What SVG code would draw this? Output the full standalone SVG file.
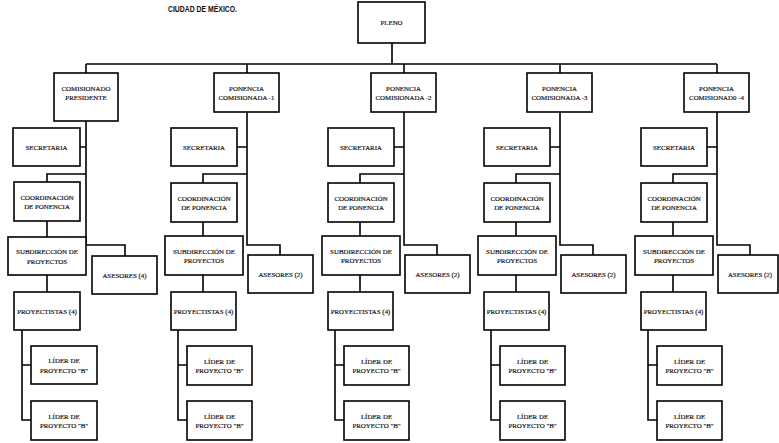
<svg xmlns="http://www.w3.org/2000/svg" width="779" height="443" viewBox="0 0 779 443">
<style>
.box{fill:#fff;stroke:#000;stroke-width:1.6}
.t{font-family:"Liberation Serif","DejaVu Serif",serif;font-size:6.9px;text-anchor:middle;dominant-baseline:central;fill:#111;stroke:#111;stroke-width:0.18}
.c{fill:none;stroke:#000;stroke-width:1.6}
.title{font-family:"Liberation Sans","DejaVu Sans",sans-serif;font-size:9px;font-weight:bold;fill:#111}
</style>
<rect width="779" height="443" fill="#fff"/>
<text class="title" x="168" y="12" textLength="69" lengthAdjust="spacingAndGlyphs">CIUDAD DE MÉXICO.</text>

<g id="connectors" class="c">
<path d="M392 43V64M86 64H717"/>
<g transform="translate(90,0)">
<path d="M-4 64V73M-4 121V245H35V256M-10 147H-4M-4 174H-43V183M-43 221V237M-43 275V292M-68 330V420H-59M-68 365H-59"/>
</g>
<g transform="translate(247,0)">
<path d="M0 64V73M0 112V245H33V255M-10 147H0M0 174H-44V183M-44 222V236M-44 275V292M-69 330V420H-60M-69 365H-60"/>
</g>
<g transform="translate(404,0)">
<path d="M0 64V73M0 112V245H33V255M-10 147H0M0 174H-44V183M-44 222V236M-44 275V292M-69 330V420H-60M-69 365H-60"/>
</g>
<g transform="translate(560,0)">
<path d="M0 64V73M0 112V245H33V255M-10 147H0M0 174H-44V183M-44 222V236M-44 275V292M-69 330V420H-60M-69 365H-60"/>
</g>
<g transform="translate(717,0)">
<path d="M0 64V73M0 112V245H33V255M-10 147H0M0 174H-44V183M-44 222V236M-44 275V292M-69 330V420H-60M-69 365H-60"/>
</g>
</g>

<g id="pleno"><rect class="box" x="358" y="2" width="67" height="41"/><text class="t" x="391.5" y="22.5">PLENO</text></g>

<!-- Column 1 -->
<g id="c1-top"><rect class="box" x="54" y="73" width="64" height="48"/><text class="t" x="86" y="88">COMISIONADO</text><text class="t" x="86" y="97.5">PRESIDENTE</text></g>
<g id="c1-secretaria" transform="translate(90,0)"><rect class="box" x="-77" y="128" width="67" height="38"/><text class="t" x="-43.5" y="147">SECRETARIA</text></g>
<g id="c1-coordinacion" transform="translate(90,0)"><rect class="box" x="-76" y="182" width="66" height="39"/><text class="t" x="-43" y="197">COORDINACIÓN</text><text class="t" x="-43" y="206.5">DE PONENCIA</text></g>
<g id="c1-subdireccion" transform="translate(90,0)"><rect class="box" x="-82" y="237" width="78" height="38"/><text class="t" x="-43" y="251.5">SUBDIRECCIÓN DE</text><text class="t" x="-43" y="261">PROYECTOS</text></g>
<g id="c1-asesores" transform="translate(90,0)"><rect class="box" x="2" y="256" width="65" height="38"/><text class="t" x="34.5" y="275">ASESORES (4)</text></g>
<g id="c1-proyectistas" transform="translate(90,0)"><rect class="box" x="-76" y="292" width="66" height="38"/><text class="t" x="-43" y="311">PROYECTISTAS (4)</text></g>
<g id="c1-lider1" transform="translate(90,0)"><rect class="box" x="-59" y="346" width="66" height="38"/><text class="t" x="-26" y="360.5">LÍDER DE</text><text class="t" x="-26" y="370">PROYECTO "B"</text></g>
<g id="c1-lider2" transform="translate(90,0)"><rect class="box" x="-59" y="401" width="66" height="39"/><text class="t" x="-26" y="416">LÍDER DE</text><text class="t" x="-26" y="425.5">PROYECTO "B"</text></g>

<!-- Column 2 -->
<g id="c2-top" transform="translate(247,0)"><rect class="box" x="-33" y="73" width="65" height="39"/><text class="t" x="-0.5" y="88">PONENCIA</text><text class="t" x="-0.5" y="97.5">COMISIONADA -1</text></g>
<g id="c2-secretaria" transform="translate(247,0)"><rect class="box" x="-76" y="128" width="66" height="38"/><text class="t" x="-43" y="147">SECRETARIA</text></g>
<g id="c2-coordinacion" transform="translate(247,0)"><rect class="box" x="-76" y="183" width="66" height="39"/><text class="t" x="-43" y="198">COORDINACIÓN</text><text class="t" x="-43" y="207.5">DE PONENCIA</text></g>
<g id="c2-subdireccion" transform="translate(247,0)"><rect class="box" x="-82" y="236" width="78" height="39"/><text class="t" x="-43" y="251">SUBDIRECCIÓN DE</text><text class="t" x="-43" y="260.5">PROYECTOS</text></g>
<g id="c2-asesores" transform="translate(247,0)"><rect class="box" x="1" y="255" width="65" height="38"/><text class="t" x="33.5" y="274">ASESORES (2)</text></g>
<g id="c2-proyectistas" transform="translate(247,0)"><rect class="box" x="-76" y="292" width="65" height="38"/><text class="t" x="-43.5" y="311">PROYECTISTAS (4)</text></g>
<g id="c2-lider1" transform="translate(247,0)"><rect class="box" x="-60" y="346" width="65" height="39"/><text class="t" x="-27.5" y="361">LÍDER DE</text><text class="t" x="-27.5" y="370.5">PROYECTO "B"</text></g>
<g id="c2-lider2" transform="translate(247,0)"><rect class="box" x="-60" y="401" width="65" height="39"/><text class="t" x="-27.5" y="416">LÍDER DE</text><text class="t" x="-27.5" y="425.5">PROYECTO "B"</text></g>

<!-- Column 3 -->
<g id="c3-top" transform="translate(404,0)"><rect class="box" x="-33" y="73" width="65" height="39"/><text class="t" x="-0.5" y="88">PONENCIA</text><text class="t" x="-0.5" y="97.5">COMISIONADA -2</text></g>
<g id="c3-secretaria" transform="translate(404,0)"><rect class="box" x="-76" y="128" width="66" height="38"/><text class="t" x="-43" y="147">SECRETARIA</text></g>
<g id="c3-coordinacion" transform="translate(404,0)"><rect class="box" x="-76" y="183" width="66" height="39"/><text class="t" x="-43" y="198">COORDINACIÓN</text><text class="t" x="-43" y="207.5">DE PONENCIA</text></g>
<g id="c3-subdireccion" transform="translate(404,0)"><rect class="box" x="-82" y="236" width="78" height="39"/><text class="t" x="-43" y="251">SUBDIRECCIÓN DE</text><text class="t" x="-43" y="260.5">PROYECTOS</text></g>
<g id="c3-asesores" transform="translate(404,0)"><rect class="box" x="1" y="255" width="65" height="38"/><text class="t" x="33.5" y="274">ASESORES (2)</text></g>
<g id="c3-proyectistas" transform="translate(404,0)"><rect class="box" x="-76" y="292" width="65" height="38"/><text class="t" x="-43.5" y="311">PROYECTISTAS (4)</text></g>
<g id="c3-lider1" transform="translate(404,0)"><rect class="box" x="-60" y="346" width="65" height="39"/><text class="t" x="-27.5" y="361">LÍDER DE</text><text class="t" x="-27.5" y="370.5">PROYECTO "B"</text></g>
<g id="c3-lider2" transform="translate(404,0)"><rect class="box" x="-60" y="401" width="65" height="39"/><text class="t" x="-27.5" y="416">LÍDER DE</text><text class="t" x="-27.5" y="425.5">PROYECTO "B"</text></g>

<!-- Column 4 -->
<g id="c4-top" transform="translate(560,0)"><rect class="box" x="-33" y="73" width="65" height="39"/><text class="t" x="-0.5" y="88">PONENCIA</text><text class="t" x="-0.5" y="97.5">COMISIONADA -3</text></g>
<g id="c4-secretaria" transform="translate(560,0)"><rect class="box" x="-76" y="128" width="66" height="38"/><text class="t" x="-43" y="147">SECRETARIA</text></g>
<g id="c4-coordinacion" transform="translate(560,0)"><rect class="box" x="-76" y="183" width="66" height="39"/><text class="t" x="-43" y="198">COORDINACIÓN</text><text class="t" x="-43" y="207.5">DE PONENCIA</text></g>
<g id="c4-subdireccion" transform="translate(560,0)"><rect class="box" x="-82" y="236" width="78" height="39"/><text class="t" x="-43" y="251">SUBDIRECCIÓN DE</text><text class="t" x="-43" y="260.5">PROYECTOS</text></g>
<g id="c4-asesores" transform="translate(560,0)"><rect class="box" x="1" y="255" width="65" height="38"/><text class="t" x="33.5" y="274">ASESORES (2)</text></g>
<g id="c4-proyectistas" transform="translate(560,0)"><rect class="box" x="-76" y="292" width="65" height="38"/><text class="t" x="-43.5" y="311">PROYECTISTAS (4)</text></g>
<g id="c4-lider1" transform="translate(560,0)"><rect class="box" x="-60" y="346" width="65" height="39"/><text class="t" x="-27.5" y="361">LÍDER DE</text><text class="t" x="-27.5" y="370.5">PROYECTO "B"</text></g>
<g id="c4-lider2" transform="translate(560,0)"><rect class="box" x="-60" y="401" width="65" height="39"/><text class="t" x="-27.5" y="416">LÍDER DE</text><text class="t" x="-27.5" y="425.5">PROYECTO "B"</text></g>

<!-- Column 5 -->
<g id="c5-top" transform="translate(717,0)"><rect class="box" x="-33" y="73" width="65" height="39"/><text class="t" x="-0.5" y="88">PONENCIA</text><text class="t" x="-0.5" y="97.5">COMISIONAD0 -4</text></g>
<g id="c5-secretaria" transform="translate(717,0)"><rect class="box" x="-76" y="128" width="66" height="38"/><text class="t" x="-43" y="147">SECRETARIA</text></g>
<g id="c5-coordinacion" transform="translate(717,0)"><rect class="box" x="-76" y="183" width="66" height="39"/><text class="t" x="-43" y="198">COORDINACIÓN</text><text class="t" x="-43" y="207.5">DE PONENCIA</text></g>
<g id="c5-subdireccion" transform="translate(717,0)"><rect class="box" x="-82" y="236" width="78" height="39"/><text class="t" x="-43" y="251">SUBDIRECCIÓN DE</text><text class="t" x="-43" y="260.5">PROYECTOS</text></g>
<g id="c5-asesores" transform="translate(717,0)"><rect class="box" x="1" y="255" width="60" height="38"/><text class="t" x="33" y="274">ASESORES (2)</text></g>
<g id="c5-proyectistas" transform="translate(717,0)"><rect class="box" x="-76" y="292" width="65" height="38"/><text class="t" x="-43.5" y="311">PROYECTISTAS (4)</text></g>
<g id="c5-lider1" transform="translate(717,0)"><rect class="box" x="-60" y="346" width="65" height="39"/><text class="t" x="-27.5" y="361">LÍDER DE</text><text class="t" x="-27.5" y="370.5">PROYECTO "B"</text></g>
<g id="c5-lider2" transform="translate(717,0)"><rect class="box" x="-60" y="401" width="65" height="39"/><text class="t" x="-27.5" y="416">LÍDER DE</text><text class="t" x="-27.5" y="425.5">PROYECTO "B"</text></g>
</svg>
